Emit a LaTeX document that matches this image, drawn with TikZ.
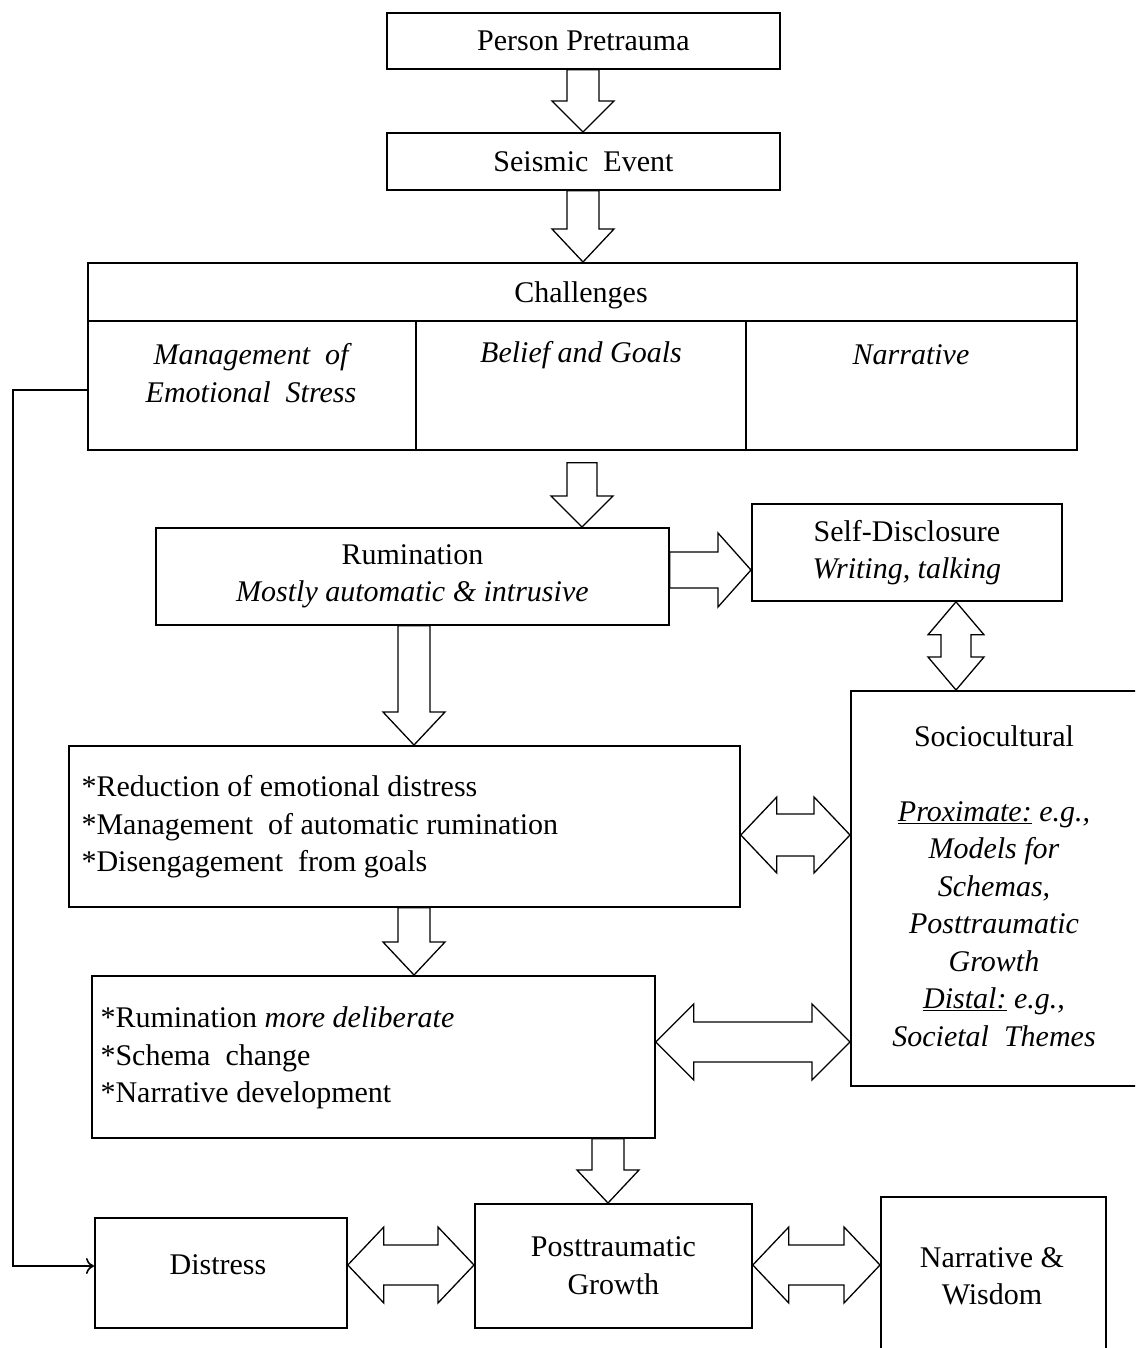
\documentclass[tikz,border=0pt]{standalone}
\usepackage{fontspec}
\setmainfont{Liberation Serif}
\usetikzlibrary{calc,arrows.meta}
\newcommand\fs{\fontsize{30}{37.5}\selectfont}
% down block arrow: x, from, to, shaft half, head half, head length
\newcommand\dnblk[6]{\draw[blk] let \p1=(#2), \p2=(#3) in
 (#1pt-#4pt,\y1) -- (#1pt-#4pt,\y2+#6pt) -- (#1pt-#5pt,\y2+#6pt) -- (#1pt,\y2)
 -- (#1pt+#5pt,\y2+#6pt) -- (#1pt+#4pt,\y2+#6pt) -- (#1pt+#4pt,\y1) -- cycle;}
% right block arrow: y, from, to, shaft half, head half, head length
\newcommand\rtblk[6]{\draw[blk] let \p1=(#2), \p2=(#3) in
 (\x1,-#1pt+#4pt) -- (\x2-#6pt,-#1pt+#4pt) -- (\x2-#6pt,-#1pt+#5pt) -- (\x2,-#1pt)
 -- (\x2-#6pt,-#1pt-#5pt) -- (\x2-#6pt,-#1pt-#4pt) -- (\x1,-#1pt-#4pt) -- cycle;}
% horizontal double block arrow
\newcommand\hdbl[6]{\draw[blk] let \p1=(#2), \p2=(#3) in
 (\x1,-#1pt) -- (\x1+#6pt,-#1pt+#5pt) -- (\x1+#6pt,-#1pt+#4pt) -- (\x2-#6pt,-#1pt+#4pt)
 -- (\x2-#6pt,-#1pt+#5pt) -- (\x2,-#1pt) -- (\x2-#6pt,-#1pt-#5pt) -- (\x2-#6pt,-#1pt-#4pt)
 -- (\x1+#6pt,-#1pt-#4pt) -- (\x1+#6pt,-#1pt-#5pt) -- cycle;}
% vertical double block arrow
\newcommand\vdbl[6]{\draw[blk] let \p1=(#2), \p2=(#3) in
 (#1pt,\y1) -- (#1pt+#5pt,\y1-#6pt) -- (#1pt+#4pt,\y1-#6pt) -- (#1pt+#4pt,\y2+#6pt)
 -- (#1pt+#5pt,\y2+#6pt) -- (#1pt,\y2) -- (#1pt-#5pt,\y2+#6pt) -- (#1pt-#4pt,\y2+#6pt)
 -- (#1pt-#4pt,\y1-#6pt) -- (#1pt-#5pt,\y1-#6pt) -- cycle;}
\begin{document}
\begin{tikzpicture}[x=1pt,y=-1pt,
  every node/.style={font=\fs},
  box/.style={draw,line width=1.8pt,inner sep=0pt},
  ital/.style={font=\fs\itshape},
  blk/.style={draw,line width=1.3pt,line join=miter},
  conn/.style={draw,line width=1.6pt,-{To[length=8pt,width=16pt]}},
  divider/.style={line width=1.8pt}]
\clip (0,0) rectangle (1135,1348);
\fill[white] (0,0) rectangle (1135,1348);
% boxes
\node[box,minimum width=393pt,minimum height=56pt,anchor=north west] (pre) at (386,12) {Person Pretrauma};
\node[box,minimum width=393pt,minimum height=57pt,anchor=north west] (seis) at (386,132) {Seismic~ Event};
\node[box,minimum width=989pt,minimum height=187pt,anchor=north west] (chal) at (87,262) {};
\node (chalt) at (581,295) {Challenges};
\draw[divider] (87,321) -- (1076,321);
\draw[divider] (416,321) -- (416,449);
\draw[divider] (746,321) -- (746,449);
\node[ital,align=center] (c1) at (251,373) {Management~ of\\Emotional~ Stress};
\node[ital] (c2) at (581,355) {Belief and Goals};
\node[ital] (c3) at (911,355) {Narrative};
\node[box,minimum width=513pt,minimum height=97pt,anchor=north west,align=center] (rum) at (155,527) {Rumination\\\textit{Mostly automatic \& intrusive}};
\node[box,minimum width=310pt,minimum height=97pt,anchor=north west,align=center] (self) at (751,503) {Self-Disclosure\\\textit{Writing, talking}};
\node[box,minimum width=300pt,minimum height=395pt,anchor=north west] (soc) at (850,690) {};
\node[align=center] (soct) at (994,886) {Sociocultural\\[37.5pt]\textit{\underline{Proximate:} e.g.,}\\\textit{Models for}\\\textit{Schemas,}\\\textit{Posttraumatic}\\\textit{Growth}\\\textit{\underline{Distal:} e.g.,}\\\textit{Societal~ Themes}};
\node[box,minimum width=671pt,minimum height=161pt,anchor=north west] (red) at (68,745) {};
\node[align=left,anchor=west] (redt) at (78,827) {*Reduction of emotional distress\\*Management~ of automatic rumination\\*Disengagement~ from goals};
\node[box,minimum width=563pt,minimum height=162pt,anchor=north west] (delib) at (91,975) {};
\node[align=left,anchor=west] (delibt) at (97,1058) {*Rumination \textit{more deliberate}\\*Schema~ change\\*Narrative development};
\node[box,minimum width=252pt,minimum height=110pt,anchor=north west] (dist) at (94,1217) {};
\node (distt) at (218,1265) {Distress};
\node[box,minimum width=277pt,minimum height=124pt,anchor=north west,align=center] (ptg) at (474,1203) {Posttraumatic\\Growth};
\node[box,minimum width=225pt,minimum height=170pt,anchor=north west] (nw) at (880,1196) {};
\node[align=center] (nwt) at (992,1276) {Narrative \&\\Wisdom};
% block arrows
\dnblk{583}{pre.south}{seis.north}{16}{31}{31}
\dnblk{583}{seis.south}{chal.north}{16}{31}{33}
\dnblk{582}{[yshift=-12pt]chal.south}{rum.north}{15}{31}{31}
\dnblk{414}{rum.south}{red.north}{16}{31}{33}
\dnblk{414}{red.south}{delib.north}{16}{31}{33}
\dnblk{608}{delib.south}{ptg.north}{16}{31}{33}
\rtblk{570}{rum.east}{self.west}{18}{37}{33}
\vdbl{956}{self.south}{soc.north}{15}{28}{33}
\hdbl{835}{red.east}{soc.west}{21}{38}{36}
\hdbl{1042}{delib.east}{soc.west}{20}{38}{38}
\hdbl{1265}{dist.east}{ptg.west}{20}{38}{36}
\hdbl{1265}{ptg.east}{nw.west}{20}{38}{36}
% connector
\draw[conn] (chal.west |- 0,390) -- (13,390) -- (13,1266) -- (dist.west |- 0,1266);
\end{tikzpicture}
\end{document}
